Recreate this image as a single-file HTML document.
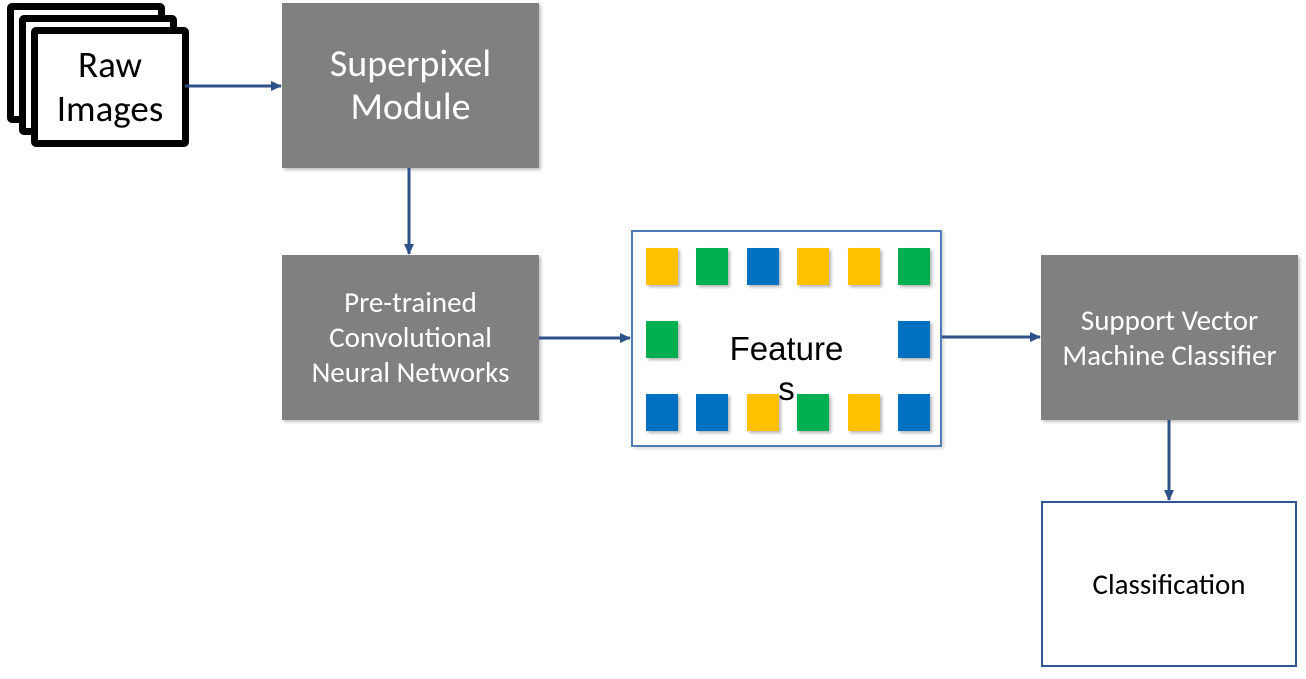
<!DOCTYPE html>
<html><head><style>
body{margin:0;width:1306px;height:679px;background:#fff;position:relative;overflow:hidden;font-family:"Liberation Sans",sans-serif}
.a{position:absolute;box-sizing:border-box}
.img{border:7px solid #000;border-radius:5px;background:#fff}
.g{background:#808080;color:#fff;display:flex;align-items:center;justify-content:center;text-align:center;font-family:"Carlito","Liberation Sans",sans-serif;box-shadow:2px 2px 3px rgba(0,0,0,.25)}
.sq{position:absolute;width:32px;height:37px;box-shadow:2px 2px 3px rgba(0,0,0,.3)}
.y{background:#FFC000}.gr{background:#00B050}.b{background:#0070C0}
</style></head><body>
<div class="a img" style="left:7px;top:3px;width:158px;height:120px"></div>
<div class="a img" style="left:19px;top:15px;width:158px;height:120px"></div>
<div class="a img" style="left:31px;top:27px;width:158px;height:120px;display:flex;align-items:center;justify-content:center;text-align:center;font-family:'Carlito','Liberation Sans',sans-serif;font-size:37px;line-height:44px">Raw<br>Images</div>
<div class="a g" style="left:282px;top:3px;width:257px;height:165px;font-size:38px;line-height:43px">Superpixel<br>Module</div>
<div class="a g" style="left:282px;top:255px;width:257px;height:165px;font-size:29px;line-height:35px">Pre-trained<br>Convolutional<br>Neural Networks</div>
<div class="a g" style="left:1041px;top:255px;width:257px;height:165px;font-size:29px;line-height:35px">Support Vector<br>Machine Classifier</div>
<div class="a" style="left:1041px;top:501px;width:256px;height:166px;border:2px solid #2F5597;display:flex;align-items:center;justify-content:center;font-size:29px;font-family:'Carlito','Liberation Sans',sans-serif">Classification</div>
<div class="a" style="left:631px;top:230px;width:311px;height:217px;border:2px solid #4F7CB8;box-shadow:2px 2px 3px rgba(0,0,0,.15)">
<div class="sq y" style="left:13px;top:16px"></div><div class="sq gr" style="left:63px;top:16px"></div><div class="sq b" style="left:114px;top:16px"></div><div class="sq y" style="left:164px;top:16px"></div><div class="sq y" style="left:215px;top:16px"></div><div class="sq gr" style="left:265px;top:16px"></div>
<div class="sq gr" style="left:13px;top:89px"></div><div class="sq b" style="left:265px;top:89px"></div>
<div class="sq b" style="left:13px;top:162px"></div><div class="sq b" style="left:63px;top:162px"></div><div class="sq y" style="left:114px;top:162px"></div><div class="sq gr" style="left:164px;top:162px"></div><div class="sq y" style="left:215px;top:162px"></div><div class="sq b" style="left:265px;top:162px"></div>
<div style="position:absolute;left:0;width:100%;top:97px;text-align:center;font-size:33px;line-height:40px">Feature<br>s</div>
</div>
<svg class="a" style="left:0;top:0" width="1306" height="679">
<defs><marker id="m" markerWidth="11" markerHeight="10" refX="10" refY="5" orient="auto" markerUnits="userSpaceOnUse"><path d="M0,0L11,5L0,10z" fill="#2C5289"/></marker></defs>
<g stroke="#2C5289" stroke-width="3" marker-end="url(#m)">
<line x1="185" y1="86" x2="281" y2="86"/>
<line x1="409" y1="168" x2="409" y2="254"/>
<line x1="539" y1="338" x2="630" y2="338"/>
<line x1="942" y1="337" x2="1040" y2="337"/>
<line x1="1169" y1="420" x2="1169" y2="500"/>
</g></svg>
</body></html>
